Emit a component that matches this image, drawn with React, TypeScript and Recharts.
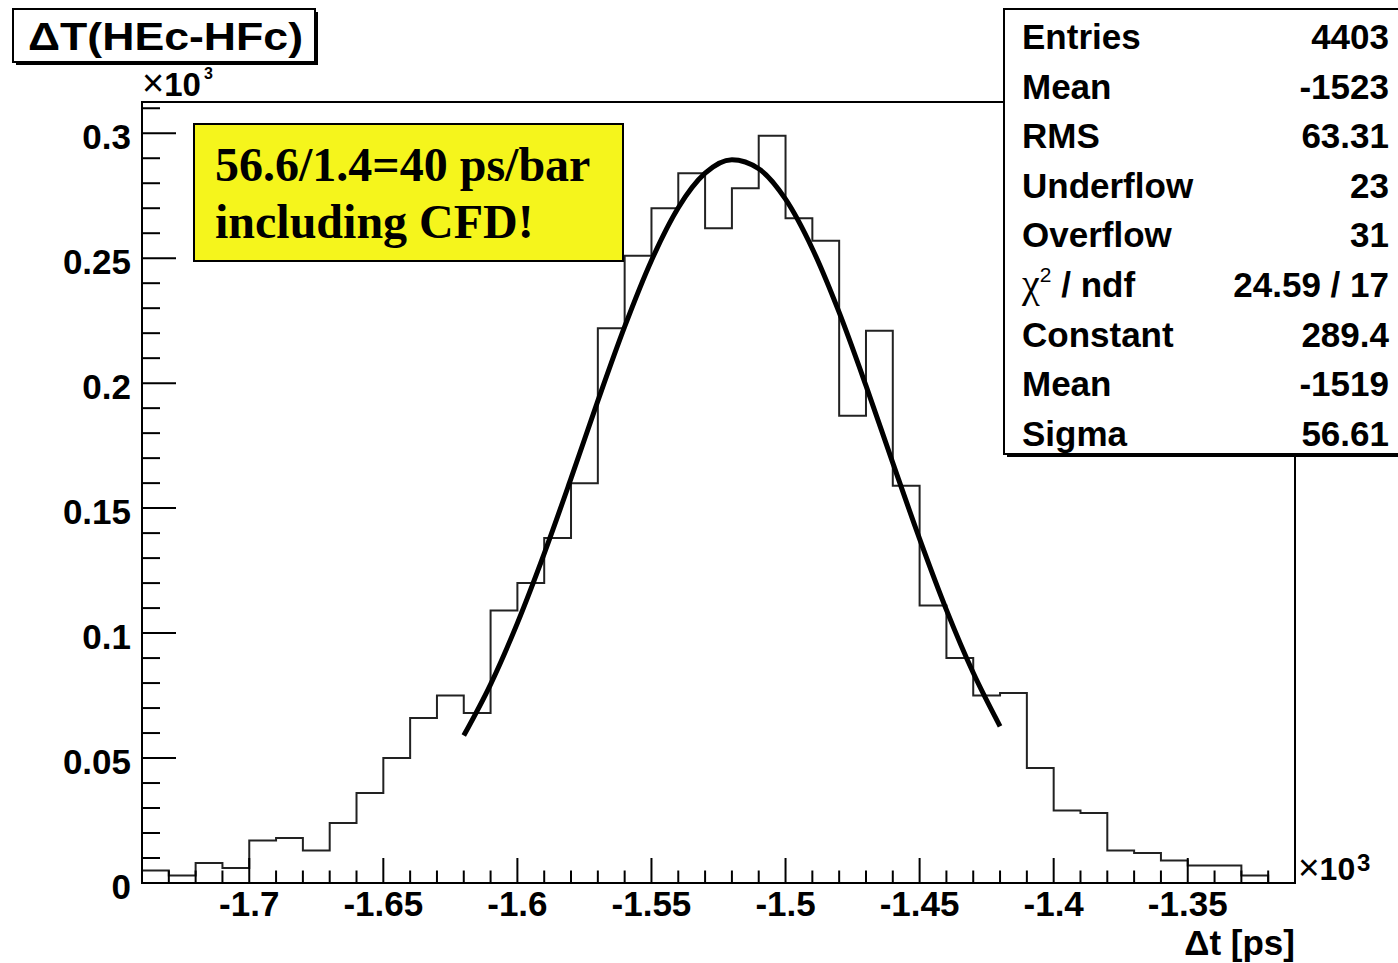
import React from "react";
import { ComposedChart, Line, XAxis, YAxis } from "recharts";

// histogram bins: low edge (ps) and entries per 10 ps bin
const binLowEdges = [
  -1740, -1730, -1720, -1710, -1700, -1690, -1680, -1670, -1660, -1650,
  -1640, -1630, -1620, -1610, -1600, -1590, -1580, -1570, -1560, -1550,
  -1540, -1530, -1520, -1510, -1500, -1490, -1480, -1470, -1460, -1450,
  -1440, -1430, -1420, -1410, -1400, -1390, -1380, -1370, -1360, -1350,
  -1340, -1330, -1320,
];
const binCounts = [
  5, 3, 8, 6, 17, 18, 13, 24, 36, 50,
  66, 75, 68, 109, 120, 138, 160, 222, 251, 270,
  284, 262, 278, 299, 266, 257, 187, 221, 159, 111,
  90, 75, 76, 46, 29, 28, 13, 12, 9, 7,
  7, 3, 0,
];
const xUpperEdge = -1310;

// gaus fit curve as drawn
const fitX = [
  -1620, -1610, -1600, -1590, -1580, -1570, -1560, -1550, -1540, -1530, -1520,
  -1510, -1500, -1490, -1480, -1470, -1460, -1450, -1440, -1430, -1420,
];
const fitY = [
  59, 79.5, 104, 131.8, 161.9, 192.9, 222.6, 249.1, 270.2, 284, 289.4,
  285.8, 273.6, 253.8, 228.3, 199, 168.1, 137.7, 109.3, 84.1, 62.7,
];

const xTicks = [
  -1730, -1720, -1710, -1700, -1690, -1680, -1670, -1660, -1650, -1640,
  -1630, -1620, -1610, -1600, -1590, -1580, -1570, -1560, -1550, -1540,
  -1530, -1520, -1510, -1500, -1490, -1480, -1470, -1460, -1450, -1440,
  -1430, -1420, -1410, -1400, -1390, -1380, -1370, -1360, -1350, -1340,
  -1330, -1320,
];
const yTicks = [
  0, 10, 20, 30, 40, 50, 60, 70, 80, 90, 100, 110, 120, 130, 140, 150,
  160, 170, 180, 190, 200, 210, 220, 230, 240, 250, 260, 270, 280, 290, 300, 310,
];

const statNames = ["Entries", "Mean", "RMS", "Underflow", "Overflow", "chi2", "Constant", "Mean", "Sigma"];
const statValues = ["4403", "-1523", "63.31", "23", "31", "24.59 / 17", "289.4", "-1519", "56.61"];

const SANS = "'Liberation Sans', Arial, Helvetica, sans-serif";
const SERIF = "'Liberation Serif', 'Times New Roman', serif";

const fmt = (v: number) => String(v / 1000);

function XTick(props: any) {
  const { x, y, payload } = props;
  const v = payload.value as number;
  const major = v % 50 === 0;
  return (
    <g>
      <line x1={x} x2={x} y1={y} y2={y - (major ? 25 : 12.5)} stroke="#000" strokeWidth={2} />
      {major && (
        <text x={x} y={y + 33} textAnchor="middle" fontFamily={SANS} fontWeight="bold" fontSize={35} fill="#000">
          {fmt(v)}
        </text>
      )}
    </g>
  );
}

function YTick(props: any) {
  const { x, y, payload } = props;
  const v = payload.value as number;
  const major = v % 50 === 0;
  return (
    <g>
      <line x1={x} x2={x + (major ? 34 : 18)} y1={y} y2={y} stroke="#000" strokeWidth={2} />
      {major && (
        <text x={x - 11} y={y + 16} textAnchor="end" fontFamily={SANS} fontWeight="bold" fontSize={35} fill="#000">
          {fmt(v)}
        </text>
      )}
    </g>
  );
}

export default function App() {
  const histData = binLowEdges
    .map((x, i) => ({ x, y: binCounts[i] }))
    .concat([{ x: xUpperEdge, y: binCounts[binCounts.length - 1] }]);
  const fitData = fitX.map((x, i) => ({ x, y: fitY[i] }));

  return (
    <div style={{ position: "absolute", left: 0, top: 0, width: 1398, height: 963, background: "#fff" }}>
      <ComposedChart width={1398} height={963} margin={{ top: 102, right: 103, bottom: 79, left: 0 }}>
        <XAxis
          type="number"
          dataKey="x"
          domain={[-1740, xUpperEdge]}
          ticks={xTicks}
          interval={0}
          height={1}
          tickSize={0}
          tickMargin={0}
          axisLine={false}
          tickLine={false}
          tick={<XTick />}
          allowDataOverflow
        />
        <YAxis
          type="number"
          domain={[0, 312.5]}
          ticks={yTicks}
          interval={0}
          width={142}
          tickSize={0}
          tickMargin={0}
          axisLine={false}
          tickLine={false}
          tick={<YTick />}
          allowDataOverflow
        />
        <Line
          data={histData}
          dataKey="y"
          type="stepAfter"
          stroke="#222"
          strokeWidth={2}
          dot={false}
          isAnimationActive={false}
        />
        <Line
          data={fitData}
          dataKey="y"
          type="monotone"
          stroke="#000"
          strokeWidth={5}
          dot={false}
          isAnimationActive={false}
        />
      </ComposedChart>

      <svg
        width={1398}
        height={963}
        style={{ position: "absolute", left: 0, top: 0, pointerEvents: "none" }}
      >
        {/* frame */}
        <rect x={142} y={102} width={1153} height={781} fill="none" stroke="#000" strokeWidth={2} />

        {/* title */}
        <rect x={16} y={12} width={302} height={53} fill="#000" />
        <rect x={13} y={9} width={302} height={53} fill="#fff" stroke="#000" strokeWidth={2} />
        <text x={28} y={50} fontFamily={SANS} fontWeight="bold" fontSize={38} textLength={275} lengthAdjust="spacingAndGlyphs">
          ΔT(HEc-HFc)
        </text>

        {/* exponent labels */}
        <text x={142} y={96} fontFamily={SANS} fontWeight="bold" fontSize={33}>
          <tspan fontWeight="normal" fontSize={38}>×</tspan>10
        </text>
        <text x={204} y={79} fontFamily={SANS} fontWeight="bold" fontSize={16}>3</text>
        <text x={1298} y={880} fontFamily={SANS} fontWeight="bold" fontSize={32}>
          <tspan fontWeight="normal" fontSize={37}>×</tspan>10
        </text>
        <text x={1357} y={871} fontFamily={SANS} fontWeight="bold" fontSize={24}>3</text>

        {/* axis title */}
        <text x={1295} y={955} textAnchor="end" fontFamily={SANS} fontWeight="bold" fontSize={35}>
          Δt [ps]
        </text>

        {/* annotation */}
        <rect x={194} y={124} width={429} height={137} fill="#f5f51c" stroke="#000" strokeWidth={2} />
        <text x={215} y={181} fontFamily={SERIF} fontWeight="bold" fontSize={48}>
          56.6/1.4=40 ps/bar
        </text>
        <text x={215} y={238} fontFamily={SERIF} fontWeight="bold" fontSize={48}>
          including CFD!
        </text>

        {/* stats box */}
        <rect x={1007} y={12} width={420} height={445} fill="#000" />
        <rect x={1004} y={9} width={420} height={445} fill="#fff" stroke="#000" strokeWidth={2} />
        {statNames.map((name, i) => {
          const yb = 49 + i * 49.6;
          return (
            <g key={i} fontFamily={SANS} fontWeight="bold" fontSize={35}>
              {name === "chi2" ? (
                <text x={1022} y={yb}>
                  <tspan fontFamily={SERIF} fontWeight="normal" fontSize={40}>χ</tspan>
                  <tspan fontSize={21} fontWeight="normal" dy={-15}>2</tspan>
                  <tspan dy={15}> / ndf</tspan>
                </text>
              ) : (
                <text x={1022} y={yb}>{name}</text>
              )}
              <text x={1389} y={yb} textAnchor="end">{statValues[i]}</text>
            </g>
          );
        })}
      </svg>
    </div>
  );
}
